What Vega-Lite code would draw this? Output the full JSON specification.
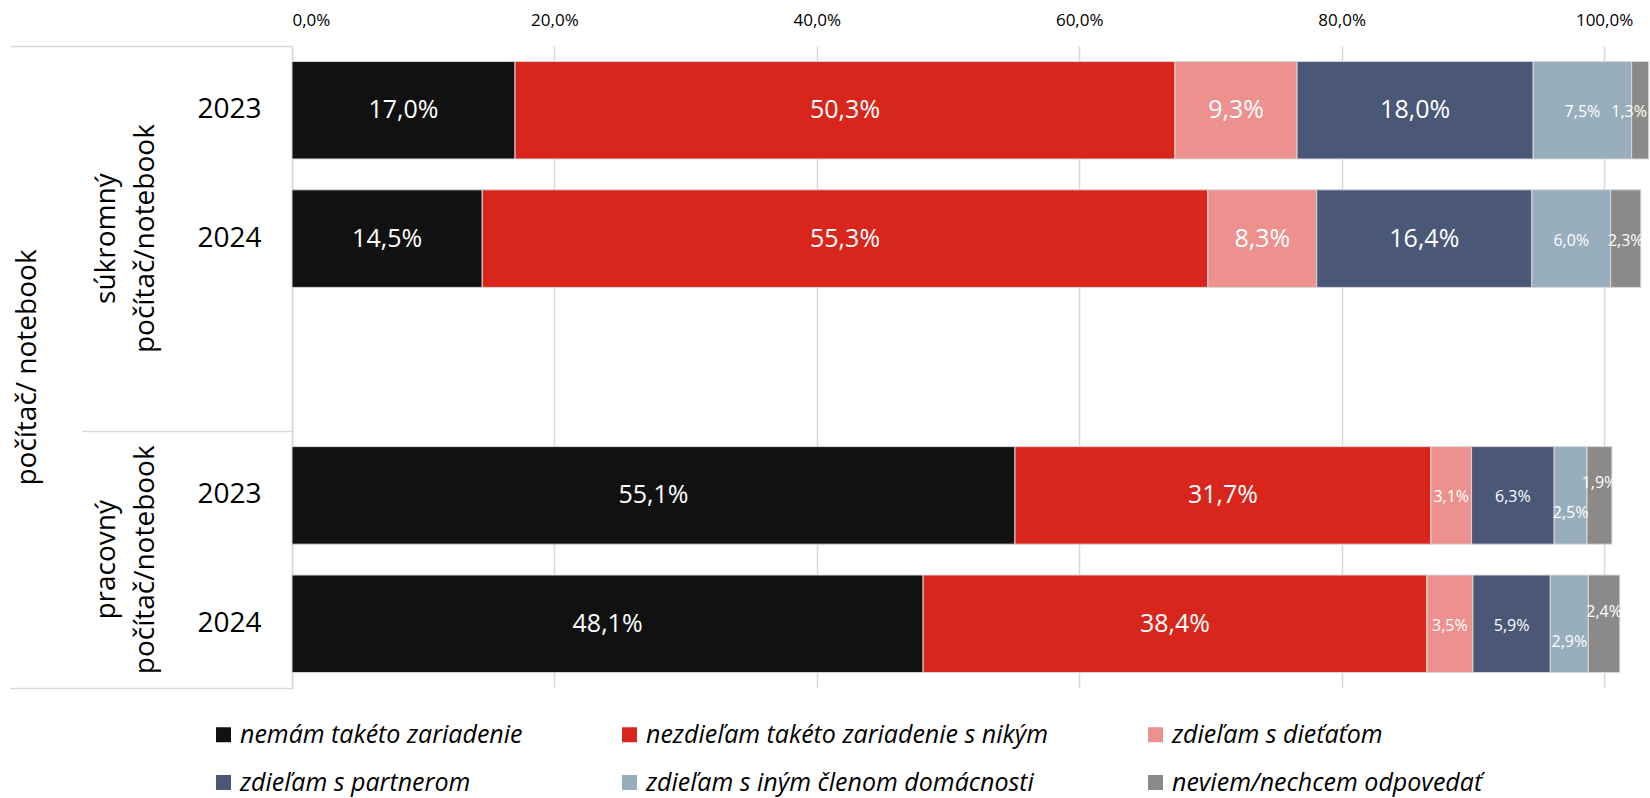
{
  "$schema": "https://vega.github.io/schema/vega-lite/v6.json",
  "autosize": {"type": "none"},
  "padding": {"left": 292, "top": 46, "right": 0, "bottom": 110},
  "width": 1358,
  "height": 642,
  "background": "white",
  "config": {
    "view": {"stroke": null},
    "font": "Open Sans",
    "locale": {"number": {"decimal": ",", "thousands": " ", "grouping": [3], "currency": ["", " €"]}}
  },
  "data": {"values": [
    {"bar": "súkromný 2023", "cat": "nemám takéto zariadenie", "val": 0.170},
    {"bar": "súkromný 2023", "cat": "nezdieľam takéto zariadenie s nikým", "val": 0.503},
    {"bar": "súkromný 2023", "cat": "zdieľam s dieťaťom", "val": 0.093},
    {"bar": "súkromný 2023", "cat": "zdieľam s partnerom", "val": 0.180},
    {"bar": "súkromný 2023", "cat": "zdieľam s iným členom domácnosti", "val": 0.075},
    {"bar": "súkromný 2023", "cat": "neviem/nechcem odpovedať", "val": 0.013},
    {"bar": "súkromný 2024", "cat": "nemám takéto zariadenie", "val": 0.145},
    {"bar": "súkromný 2024", "cat": "nezdieľam takéto zariadenie s nikým", "val": 0.553},
    {"bar": "súkromný 2024", "cat": "zdieľam s dieťaťom", "val": 0.083},
    {"bar": "súkromný 2024", "cat": "zdieľam s partnerom", "val": 0.164},
    {"bar": "súkromný 2024", "cat": "zdieľam s iným členom domácnosti", "val": 0.060},
    {"bar": "súkromný 2024", "cat": "neviem/nechcem odpovedať", "val": 0.023},
    {"bar": "pracovný 2023", "cat": "nemám takéto zariadenie", "val": 0.551},
    {"bar": "pracovný 2023", "cat": "nezdieľam takéto zariadenie s nikým", "val": 0.317},
    {"bar": "pracovný 2023", "cat": "zdieľam s dieťaťom", "val": 0.031},
    {"bar": "pracovný 2023", "cat": "zdieľam s partnerom", "val": 0.063},
    {"bar": "pracovný 2023", "cat": "zdieľam s iným členom domácnosti", "val": 0.025},
    {"bar": "pracovný 2023", "cat": "neviem/nechcem odpovedať", "val": 0.019},
    {"bar": "pracovný 2024", "cat": "nemám takéto zariadenie", "val": 0.481},
    {"bar": "pracovný 2024", "cat": "nezdieľam takéto zariadenie s nikým", "val": 0.384},
    {"bar": "pracovný 2024", "cat": "zdieľam s dieťaťom", "val": 0.035},
    {"bar": "pracovný 2024", "cat": "zdieľam s partnerom", "val": 0.059},
    {"bar": "pracovný 2024", "cat": "zdieľam s iným členom domácnosti", "val": 0.029},
    {"bar": "pracovný 2024", "cat": "neviem/nechcem odpovedať", "val": 0.024}
  ]},
  "transform": [
    {"calculate": "indexof(['nemám takéto zariadenie','nezdieľam takéto zariadenie s nikým','zdieľam s dieťaťom','zdieľam s partnerom','zdieľam s iným členom domácnosti','neviem/nechcem odpovedať'], datum.cat)", "as": "ord"}
  ],
  "resolve": {"axis": {"y": "independent"}},
  "layer": [
    {
      "mark": {"type": "bar", "height": {"band": 0.76}, "stroke": "#d9d9d9", "strokeWidth": 1},
      "encoding": {
        "y": {"field": "bar", "type": "nominal",
          "scale": {"domain": ["súkromný 2023", "súkromný 2024", "gap", "pracovný 2023", "pracovný 2024"], "paddingInner": 0, "paddingOuter": 0},
          "axis": {"orient": "left", "title": null, "ticks": false, "grid": false, "domain": true, "domainColor": "#d9d9d9", "domainWidth": 1.5,
            "labelFontSize": 28, "labelColor": "#000000", "labelPadding": 31, "labelAlign": "right", "labelBaseline": "middle",
            "labelExpr": "datum.value == 'gap' ? '' : slice(datum.value, -4)"}},
        "x": {"field": "val", "type": "quantitative", "stack": "zero",
          "scale": {"domain": [0, 1.035], "nice": false},
          "axis": {"orient": "top", "title": null, "values": [0, 0.2, 0.4, 0.6, 0.8, 1.0], "format": ".1%", "domain": false, "ticks": false,
            "grid": true, "gridColor": "#d9d9d9", "gridWidth": 1.5, "labelFontSize": 17, "labelColor": "#000000", "labelPadding": 17}},
        "order": {"field": "ord", "type": "quantitative"},
        "color": {"field": "cat", "type": "nominal",
          "scale": {"domain": ["nemám takéto zariadenie", "nezdieľam takéto zariadenie s nikým", "zdieľam s dieťaťom", "zdieľam s partnerom", "zdieľam s iným členom domácnosti", "neviem/nechcem odpovedať"],
            "range": ["#111111", "#d9261c", "#ed918e", "#4a5777", "#98aebd", "#8b8a88"]},
          "legend": {"orient": "none", "legendX": -81, "legendY": 676, "columns": 3, "direction": "horizontal", "title": null, "padding": 0,
            "symbolType": "square", "symbolSize": 225, "symbolStrokeWidth": 0, "labelFontSize": 25, "labelFontStyle": "italic",
            "labelColor": "#000000", "labelOffset": 4, "labelLimit": 0, "columnPadding": 94, "rowPadding": 22}}
      }
    },
    {
      "mark": {"type": "text", "color": "white", "fontSize": 25, "baseline": "middle", "align": "center"},
      "encoding": {
        "y": {"field": "bar", "type": "nominal",
          "axis": {"orient": "left", "title": null, "ticks": false, "grid": false, "domain": false,
            "values": ["súkromný 2024", "pracovný 2024"], "bandPosition": 0,
            "labelAngle": -90, "labelAlign": "center", "labelBaseline": "middle", "labelPadding": 186, "labelLineHeight": 39, "labelLimit": 0,
            "labelFontSize": 28, "labelColor": "#000000",
            "labelExpr": "datum.value == 'súkromný 2024' ? ['súkromný', 'počítač/notebook'] : ['pracovný', 'počítač/notebook']",
            "labelOffset": {"condition": {"test": "datum.value == 'súkromný 2024'", "value": 0}, "value": -64}}},
        "x": {"field": "val", "type": "quantitative", "stack": "zero", "bandPosition": 0.5,
          "axis": {"orient": "top", "title": null, "values": [0, 0.2, 0.4, 0.6, 0.8, 1.0], "format": ".1%", "domain": false, "ticks": false,
            "grid": true, "gridColor": "#d9d9d9", "gridWidth": 1.5, "labelFontSize": 17, "labelColor": "#000000", "labelPadding": 17}},
        "order": {"field": "ord", "type": "quantitative"},
        "detail": {"field": "cat"},
        "text": {"condition": {"test": "datum.val >= 0.08", "field": "val", "type": "quantitative", "format": ".1%"}, "value": ""}
      }
    },
    {
      "mark": {"type": "text", "color": "white", "fontSize": 16, "baseline": "middle", "align": "center", "dy": 2},
      "encoding": {
        "y": {"field": "bar", "type": "nominal",
          "axis": {"orient": "left", "title": null, "labels": false, "grid": false, "domain": false, "ticks": true,
            "values": ["súkromný 2023"], "bandPosition": 0, "tickSize": 282, "tickColor": "#d9d9d9", "tickWidth": 1.5}},
        "x": {"field": "val", "type": "quantitative", "stack": "zero", "bandPosition": 0.5,
          "axis": {"orient": "top", "title": null, "values": [0, 0.2, 0.4, 0.6, 0.8, 1.0], "format": ".1%", "domain": false, "ticks": false,
            "grid": true, "gridColor": "#d9d9d9", "gridWidth": 1.5, "labelFontSize": 17, "labelColor": "#000000", "labelPadding": 17}},
        "order": {"field": "ord", "type": "quantitative"},
        "detail": {"field": "cat"},
        "text": {"condition": {"test": "datum.val < 0.08 && !(datum.bar == 'súkromný 2023' && datum.cat == 'neviem/nechcem odpovedať') && !(indexof(datum.bar, 'pracovný') == 0 && (datum.cat == 'neviem/nechcem odpovedať' || datum.cat == 'zdieľam s iným členom domácnosti'))", "field": "val", "type": "quantitative", "format": ".1%"}, "value": ""}
      }
    },
    {
      "mark": {"type": "text", "color": "white", "fontSize": 16, "baseline": "middle", "align": "center", "dy": -12},
      "encoding": {
        "y": {"field": "bar", "type": "nominal",
          "axis": {"orient": "left", "title": null, "labels": false, "grid": false, "domain": false, "ticks": true,
            "values": ["pracovný 2023"], "bandPosition": 0, "tickSize": 210, "tickColor": "#d9d9d9", "tickWidth": 1.5}},
        "x": {"field": "val", "type": "quantitative", "stack": "zero", "bandPosition": 0.5,
          "axis": {"orient": "top", "title": null, "values": [0, 0.2, 0.4, 0.6, 0.8, 1.0], "format": ".1%", "domain": false, "ticks": false,
            "grid": true, "gridColor": "#d9d9d9", "gridWidth": 1.5, "labelFontSize": 17, "labelColor": "#000000", "labelPadding": 17}},
        "order": {"field": "ord", "type": "quantitative"},
        "detail": {"field": "cat"},
        "text": {"condition": {"test": "indexof(datum.bar, 'pracovný') == 0 && datum.cat == 'neviem/nechcem odpovedať'", "field": "val", "type": "quantitative", "format": ".1%"}, "value": ""}
      }
    },
    {
      "mark": {"type": "text", "color": "white", "fontSize": 16, "baseline": "middle", "align": "center", "dy": 18},
      "encoding": {
        "y": {"field": "bar", "type": "nominal",
          "axis": {"orient": "left", "labels": false, "grid": false, "domain": false, "ticks": true,
            "values": ["pracovný 2024"], "bandPosition": 1, "tickSize": 282, "tickColor": "#d9d9d9", "tickWidth": 1.5,
            "title": "počítač/ notebook", "titleAngle": -90, "titleX": -265, "titleY": 321, "titleAlign": "center", "titleBaseline": "middle",
            "titleFontSize": 28, "titleFontWeight": "normal", "titleColor": "#000000", "titleFont": "Open Sans"}},
        "x": {"field": "val", "type": "quantitative", "stack": "zero", "bandPosition": 0.5,
          "axis": {"orient": "top", "title": null, "values": [0, 0.2, 0.4, 0.6, 0.8, 1.0], "format": ".1%", "domain": false, "ticks": false,
            "grid": true, "gridColor": "#d9d9d9", "gridWidth": 1.5, "labelFontSize": 17, "labelColor": "#000000", "labelPadding": 17}},
        "order": {"field": "ord", "type": "quantitative"},
        "detail": {"field": "cat"},
        "text": {"condition": {"test": "indexof(datum.bar, 'pracovný') == 0 && datum.cat == 'zdieľam s iným členom domácnosti'", "field": "val", "type": "quantitative", "format": ".1%"}, "value": ""}
      }
    },
    {
      "mark": {"type": "text", "color": "white", "fontSize": 16, "baseline": "middle", "align": "center", "dy": 2, "dx": -11},
      "encoding": {
        "y": {"field": "bar", "type": "nominal", "axis": null},
        "x": {"field": "val", "type": "quantitative", "stack": "zero", "bandPosition": 0.5,
          "axis": {"orient": "top", "title": null, "values": [0, 0.2, 0.4, 0.6, 0.8, 1.0], "format": ".1%", "domain": false, "ticks": false,
            "grid": true, "gridColor": "#d9d9d9", "gridWidth": 1.5, "labelFontSize": 17, "labelColor": "#000000", "labelPadding": 17}},
        "order": {"field": "ord", "type": "quantitative"},
        "detail": {"field": "cat"},
        "text": {"condition": {"test": "datum.bar == 'súkromný 2023' && datum.cat == 'neviem/nechcem odpovedať'", "field": "val", "type": "quantitative", "format": ".1%"}, "value": ""}
      }
    }
  ]
}
